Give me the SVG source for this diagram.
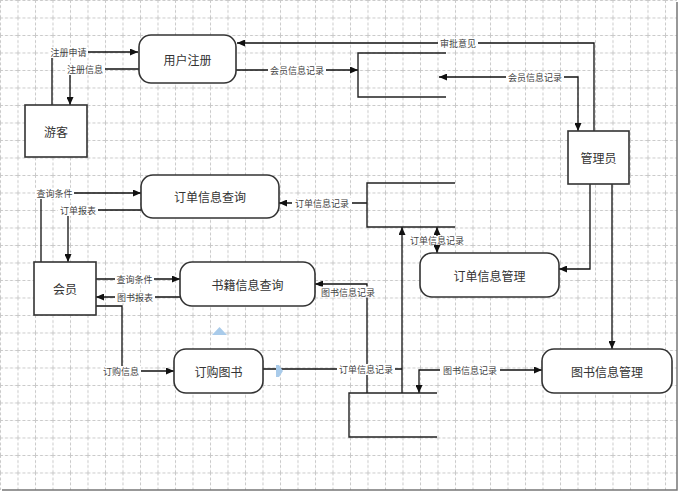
<svg xmlns="http://www.w3.org/2000/svg" width="682" height="495" viewBox="0 0 682 495">
<defs>
<pattern id="grid" x="0" y="0" width="17.5" height="17.5" patternUnits="userSpaceOnUse">
<path d="M0,0.5 H17.5 M0.5,0 V17.5" fill="none" stroke="#c9c9c9" stroke-width="1" stroke-dasharray="3,2"/>
</pattern>
<marker id="arr" markerWidth="9" markerHeight="7" refX="8" refY="3.5" orient="auto-start-reverse" markerUnits="userSpaceOnUse">
<path d="M0,0 L8,3.5 L0,7 z" fill="#111"/>
</marker>
<style>
.node{fill:#fff;stroke:#333;stroke-width:1.6}
.store{fill:none;stroke:#222;stroke-width:1.4}
.nt{font-family:"Noto Sans CJK SC",sans-serif;font-size:12px;fill:#333;text-anchor:middle;dominant-baseline:central}
.ln{fill:none;stroke:#111;stroke-width:1.3}
.lb{fill:#fff}
.lt{font-family:"Noto Sans CJK SC",sans-serif;font-size:9px;fill:#444;text-anchor:middle;dominant-baseline:central}
.handle{fill:#a9cbea}
</style>
</defs>
<rect x="0" y="0" width="682" height="495" fill="#fff"/>
<rect x="0" y="0" width="677" height="490" fill="url(#grid)"/>
<path d="M677,2 V490 H2" fill="none" stroke="#777" stroke-width="1.5"/>

<g id="connectors">
<path class="ln" d="M52,105 V52 H138" marker-end="url(#arr)"/>
<rect class="lb" x="49" y="47" width="39" height="11"/><text class="lt" x="68.5" y="52">注册申请</text>

<path class="ln" d="M139,69 H70 V105" marker-end="url(#arr)"/>
<rect class="lb" x="65" y="64" width="40" height="11"/><text class="lt" x="85" y="69">注册信息</text>

<path class="ln" d="M236,70 H358" marker-end="url(#arr)"/>
<rect class="lb" x="268" y="65" width="58" height="11"/><text class="lt" x="297" y="70">会员信息记录</text>

<path class="ln" d="M594,131 V43 H237" marker-end="url(#arr)"/>
<rect class="lb" x="438" y="38" width="40" height="11"/><text class="lt" x="458" y="43">审批意见</text>

<path class="ln" d="M439,77 H578 V131" marker-start="url(#arr)" marker-end="url(#arr)"/>
<rect class="lb" x="506" y="72" width="58" height="11"/><text class="lt" x="535" y="77">会员信息记录</text>

<path class="ln" d="M41,262 V193 H141" marker-end="url(#arr)"/>
<rect class="lb" x="35" y="188" width="39" height="11"/><text class="lt" x="54.5" y="193">查询条件</text>

<path class="ln" d="M141,210 H68 V262" marker-end="url(#arr)"/>
<rect class="lb" x="58" y="205" width="40" height="11"/><text class="lt" x="78" y="210">订单报表</text>

<path class="ln" d="M367,203 H279" marker-end="url(#arr)"/>
<rect class="lb" x="292" y="198" width="60" height="11"/><text class="lt" x="322" y="203">订单信息记录</text>

<path class="ln" d="M590,184 V269 H559" marker-end="url(#arr)"/>
<path class="ln" d="M612,184 V349" marker-end="url(#arr)"/>

<path class="ln" d="M437,227 V253" marker-start="url(#arr)" marker-end="url(#arr)"/>
<rect class="lb" x="408" y="236" width="58" height="9"/><text class="lt" x="437" y="240">订单信息记录</text>

<path class="ln" d="M96,279 H180" marker-end="url(#arr)"/>
<rect class="lb" x="115" y="274" width="39" height="11"/><text class="lt" x="134.5" y="279">查询条件</text>

<path class="ln" d="M180,297 H96" marker-end="url(#arr)"/>
<rect class="lb" x="115" y="292" width="40" height="11"/><text class="lt" x="135" y="297">图书报表</text>

<path class="ln" d="M367,393 V284 H315" marker-end="url(#arr)"/>
<rect class="lb" x="318" y="286.5" width="60" height="11"/><text class="lt" x="348" y="292">图书信息记录</text>

<path class="ln" d="M96,306 H122 V371 H174" marker-end="url(#arr)"/>
<rect class="lb" x="101" y="366" width="40" height="11"/><text class="lt" x="121" y="371">订购信息</text>

<path class="ln" d="M263,369 H402"/>
<path class="ln" d="M402,393 V227" marker-end="url(#arr)"/>
<rect class="lb" x="337" y="364" width="58" height="11"/><text class="lt" x="366" y="369">订单信息记录</text>

<path class="ln" d="M419,393 V370 H542" marker-start="url(#arr)" marker-end="url(#arr)"/>
<rect class="lb" x="440" y="365" width="60" height="11"/><text class="lt" x="470" y="370">图书信息记录</text>
</g>

<g id="store-member"><path class="store" d="M446,53 H358 V97 H446"/></g>
<g id="store-order"><path class="store" d="M455,183 H367 V227 H455"/></g>
<g id="store-book"><path class="store" d="M437,393 H349 V437 H437"/></g>

<g id="visitor"><rect class="node" x="25" y="105" width="62" height="52"/><text class="nt" x="56" y="131">游客</text></g>
<g id="admin"><rect class="node" x="568" y="131" width="61" height="53"/><text class="nt" x="598.5" y="157.5">管理员</text></g>
<g id="member"><rect class="node" x="34" y="262" width="62" height="53"/><text class="nt" x="65" y="288.5">会员</text></g>

<g id="register"><rect class="node" x="139" y="35" width="97" height="48" rx="12"/><text class="nt" x="187.5" y="59">用户注册</text></g>
<g id="order-query"><rect class="node" x="141" y="175" width="138" height="43" rx="12"/><text class="nt" x="210" y="196.5">订单信息查询</text></g>
<g id="book-query"><rect class="node" x="180" y="262" width="135" height="44" rx="12"/><text class="nt" x="247.5" y="284">书籍信息查询</text></g>
<g id="order-manage"><rect class="node" x="420" y="253" width="139" height="44" rx="12"/><text class="nt" x="489.5" y="275">订单信息管理</text></g>
<g id="buy-book"><rect class="node" x="174" y="349" width="89" height="44" rx="12"/><text class="nt" x="218.5" y="371">订购图书</text></g>
<g id="book-manage"><rect class="node" x="542" y="349" width="130" height="44" rx="12"/><text class="nt" x="607" y="371">图书信息管理</text></g>

<g id="handles">
<polygon class="handle" points="212,335 227,335 219.5,327"/>
<polygon class="handle" points="276,365 279,365 283,371 279,377 276,377"/>
</g>
</svg>
